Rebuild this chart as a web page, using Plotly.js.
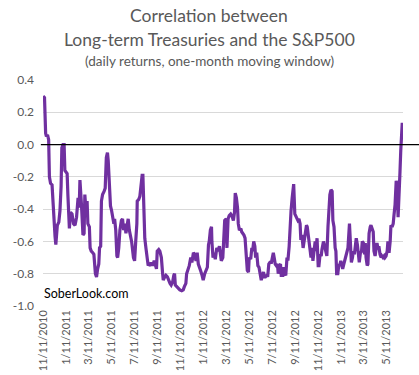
<!DOCTYPE html>
<html>
<head>
<meta charset="utf-8">
<script src="https://cdn.plot.ly/plotly-3.0.1.min.js"></script>
<style>
html,body{margin:0;padding:0;background:#fff;}
#chart{width:419px;height:375px;}
</style>
</head>
<body>
<div id="chart"></div>
<script>
// Start date of the series
const startDate = '2010-11-11';

// Days elapsed since 11/11/2010 for each observation
const daysSinceStart = [
  0,4,7,9,12,15,17,20,24,27,29,32,34,38,42,45,48,50,53,56,58,64,66,69,70,73,77,81,85,89,
  93,96,98,102,106,109,111,114,117,119,123,125,128,132,135,139,142,145,148,150,153,155,158,162,165,168,171,173,176,179,
  182,185,188,190,193,196,198,201,204,208,211,214,217,220,224,226,229,
  235,240,243,246,249,250,254,257,260,263,265,267,270,273,276,279,282,286,288,291,295,297,301,303,307,310,314,317,319,
  323,326,330,333,337,340,344,347,349,351,355,359,363,368,372,375,379,381,385,388,392,395,399,402,406,409,412,415,418,422,
  425,429,432,436,439,441,444,447,448,451,454,457,461,464,468,
  473,477,479,482,486,488,491,494,498,501,505,508,510,513,516,518,521,525,527,530,533,536,539,542,545,547,551,554,556,559,
  562,564,567,570,573,576,579,582,585,587,590,594,596,599,602,606,608,611,614,616,619,622,624,627,630,632,636,639,641,644,
  647,650,653,655,658,661,663,665,668,670,673,676,679,682,684,687,690,692,695,699,701,704,707,
  711,714,716,719,722,724,727,730,732,735,738,740,744,746,749,753,756,759,761,764,767,769,772,775,777,779,782,785,787,790,
  792,795,798,800,804,806,809,813,815,818,821,823,826,829,831,834,837,839,842,845,847,850,853,855,857,860,862,865,868,870,
  873,876,878,881,884,886,889,891,894,897,899,902,905,907,910,913,915,918,921,923,926,929,931,934,937,939,942,945,947,949,
  951,953
];

// Correlation values (daily returns, one-month moving window)
const correlation = [
  0.30,0.29,0.07,0.05,0.06,0.03,-0.20,-0.24,-0.25,-0.40,-0.52,-0.57,-0.62,-0.50,-0.48,-0.41,-0.26,-0.02,0.00,0.00,-0.16,-0.18,-0.31,-0.45,-0.52,-0.42,-0.43,-0.49,-0.50,-0.45,
  -0.33,-0.39,-0.22,-0.37,-0.56,-0.55,-0.31,-0.41,-0.35,-0.49,-0.51,-0.64,-0.66,-0.67,-0.68,-0.80,-0.82,-0.77,-0.74,-0.64,-0.63,-0.35,-0.31,-0.29,-0.27,-0.08,-0.05,-0.10,-0.245,-0.38,
  -0.41,-0.45,-0.49,-0.46,-0.53,-0.69,-0.70,-0.64,-0.53,-0.47,-0.46,-0.53,-0.49,-0.55,-0.47,-0.46,-0.53,
  -0.60,-0.70,-0.72,-0.60,-0.49,-0.35,-0.34,-0.32,-0.245,-0.19,-0.19,-0.35,-0.58,-0.64,-0.72,-0.75,-0.74,-0.75,-0.73,-0.75,-0.72,-0.74,-0.77,-0.66,-0.65,-0.66,-0.70,-0.79,-0.84,
  -0.82,-0.81,-0.82,-0.84,-0.86,-0.87,-0.85,-0.81,-0.80,-0.87,-0.88,-0.89,-0.90,-0.905,-0.90,-0.88,-0.86,-0.80,-0.77,-0.75,-0.70,-0.73,-0.67,-0.68,-0.72,-0.67,-0.74,-0.77,-0.78,-0.81,
  -0.84,-0.80,-0.78,-0.76,-0.62,-0.60,-0.53,-0.51,-0.60,-0.70,-0.67,-0.71,-0.64,-0.66,-0.63,
  -0.72,-0.70,-0.60,-0.47,-0.46,-0.64,-0.46,-0.44,-0.43,-0.44,-0.47,-0.42,-0.30,-0.33,-0.39,-0.49,-0.53,-0.52,-0.54,-0.55,-0.56,-0.58,-0.71,-0.78,-0.79,-0.70,-0.71,-0.64,-0.66,-0.60,
  -0.63,-0.70,-0.67,-0.75,-0.76,-0.82,-0.84,-0.81,-0.79,-0.82,-0.82,-0.81,-0.82,-0.74,-0.73,-0.73,-0.70,-0.67,-0.71,-0.74,-0.75,-0.74,-0.80,-0.75,-0.74,-0.81,-0.81,-0.76,-0.80,-0.81,
  -0.71,-0.71,-0.63,-0.51,-0.41,-0.33,-0.245,-0.245,-0.43,-0.44,-0.46,-0.47,-0.46,-0.49,-0.59,-0.56,-0.64,-0.60,-0.56,-0.50,-0.51,-0.58,-0.63,
  -0.70,-0.64,-0.72,-0.66,-0.60,-0.66,-0.58,-0.75,-0.75,-0.68,-0.69,-0.65,-0.60,-0.62,-0.66,-0.69,-0.51,-0.37,-0.31,-0.28,-0.29,-0.47,-0.51,-0.64,-0.66,-0.80,-0.80,-0.74,-0.75,-0.72,
  -0.74,-0.77,-0.74,-0.72,-0.68,-0.66,-0.64,-0.49,-0.60,-0.73,-0.70,-0.66,-0.68,-0.60,-0.58,-0.62,-0.72,-0.73,-0.67,-0.66,-0.60,-0.61,-0.68,-0.61,-0.70,-0.75,-0.74,-0.55,-0.51,-0.50,
  -0.52,-0.54,-0.66,-0.69,-0.64,-0.61,-0.65,-0.63,-0.68,-0.70,-0.69,-0.70,-0.69,-0.70,-0.69,-0.66,-0.60,-0.67,-0.60,-0.50,-0.51,-0.49,-0.44,-0.37,-0.225,-0.245,-0.45,-0.18,-0.17,-0.04,
  0.13,0.135
];

// Axis tick labels
const xTickLabels = ['11/11/2010','1/11/2011','3/11/2011','5/11/2011','7/11/2011','9/11/2011','11/11/2011',
  '1/11/2012','3/11/2012','5/11/2012','7/11/2012','9/11/2012','11/11/2012','1/11/2013','3/11/2013','5/11/2013'];
const yTickValues = [0.4,0.2,0.0,-0.2,-0.4,-0.6,-0.8,-1.0];
const yTickLabels = ['0.4','0.2','0.0','-0.2','-0.4','-0.6','-0.8','-1.0'];

const titleLines = ['Correlation between','Long-term Treasuries and the S&P500'];
const subtitle = '(daily returns, one-month moving window)';
const watermark = 'SoberLook.com';

function toISO(d){ return d.toISOString().slice(0,10); }
const base = new Date(startDate + 'T00:00:00Z');
const xDates = daysSinceStart.map(d => toISO(new Date(base.getTime() + d*86400000)));
const xTickVals = xTickLabels.map(s => { const [m,d,y] = s.split('/').map(Number); return toISO(new Date(Date.UTC(y,m-1,d))); });
const xEnd = toISO(new Date(base.getTime() + 955*86400000));

const FONT = 'Lato, "Open Sans", "Liberation Sans", sans-serif';
const GREY = '#595959';
const PLOT_BOTTOM = 306.5, PLOT_H = 226.5, PLOT_L = 43, PLOT_W = 360;
function py(pix){ return (PLOT_BOTTOM - pix)/PLOT_H; }
function px(pix){ return (pix - PLOT_L)/PLOT_W; }

const trace = {
  type:'scatter', mode:'lines', x:xDates, y:correlation,
  line:{color:'#7030A0', width:3.2}, hoverinfo:'skip'
};

const layout = {
  width:419, height:375,
  margin:{l:43, r:16, t:80, b:68.5, pad:0},
  paper_bgcolor:'#fff', plot_bgcolor:'#fff',
  font:{family:FONT, color:GREY},
  showlegend:false,
  xaxis:{
    type:'date', range:[startDate, xEnd],
    tickmode:'array', tickvals:xTickVals, ticktext:xTickLabels,
    tickangle:-90, tickfont:{size:11, color:GREY, family:FONT},
    showgrid:false, zeroline:false, showline:false, ticks:'',
    ticklabelstandoff:1
  },
  yaxis:{
    range:[-1.0, 0.4], tickmode:'array', tickvals:yTickValues, ticktext:yTickLabels,
    tickfont:{size:12, color:GREY, family:FONT},
    showgrid:true, gridcolor:'#D9D9D9', gridwidth:1,
    zeroline:false, showline:false, ticks:'', ticklabelstandoff:8
  },
  shapes:[{type:'line', xref:'paper', yref:'y', x0:-0.006, x1:1.05, y0:0, y1:0, line:{color:'#000', width:1.3}, layer:'above'}],
  annotations:[
    {text: titleLines[0], xref:'paper', yref:'paper', x:px(209), y:py(15), xanchor:'center', yanchor:'middle', showarrow:false, font:{family:FONT, size:17.5, color:GREY}},
    {text: titleLines[1], xref:'paper', yref:'paper', x:px(209), y:py(39), xanchor:'center', yanchor:'middle', showarrow:false, font:{family:FONT, size:17.5, color:GREY}},
    {text: subtitle, xref:'paper', yref:'paper', x:px(209), y:py(61), xanchor:'center', yanchor:'middle', showarrow:false, font:{family:FONT, size:13.5, color:GREY}},
    {text: watermark, xref:'paper', yref:'paper', x:px(86.5), y:py(294), xanchor:'center', yanchor:'middle', showarrow:false, font:{family:FONT, size:12.5, color:'#000'}}
  ]
};

Plotly.newPlot('chart', [trace], layout, {displayModeBar:false, staticPlot:true});
</script>
</body>
</html>
